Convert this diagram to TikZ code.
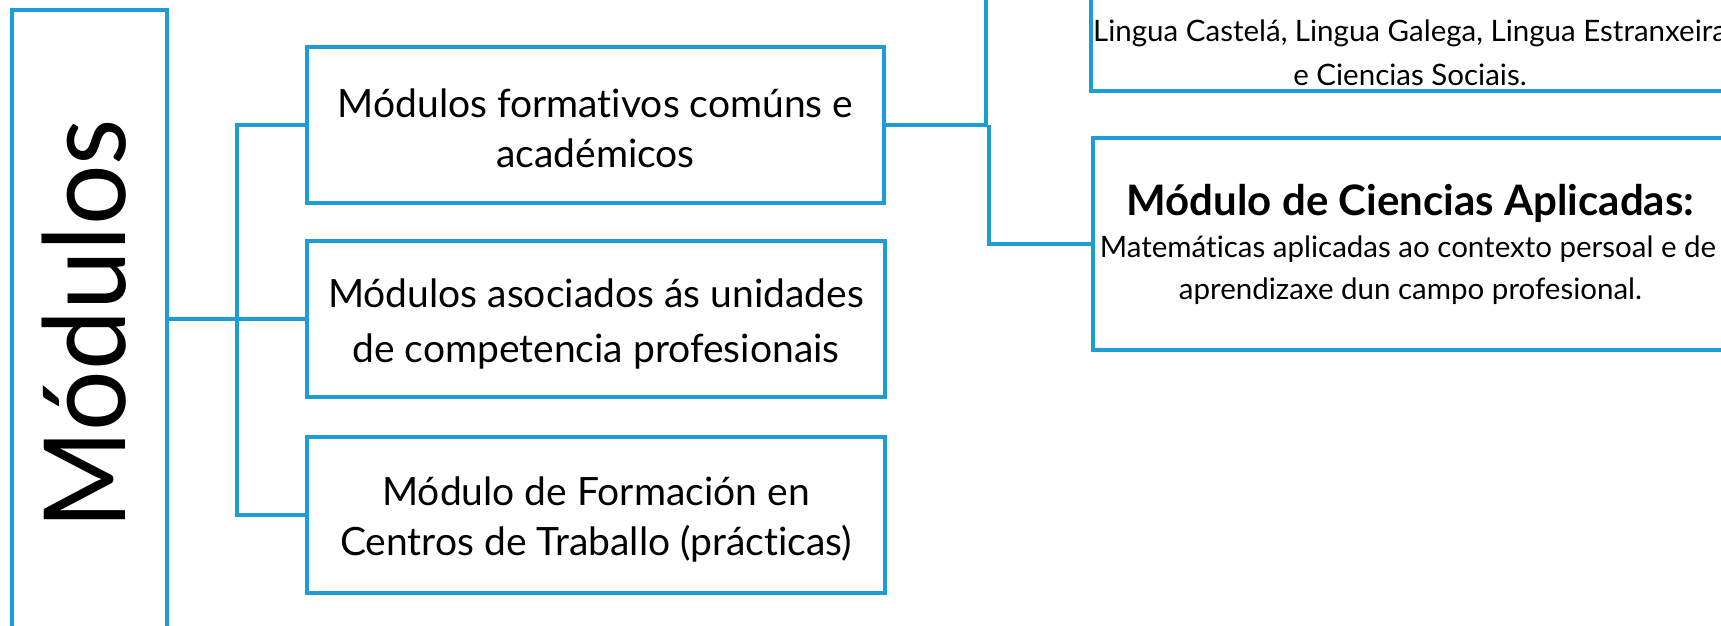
\documentclass[tikz,border=0pt]{standalone}
\usepackage{fontspec}
\setmainfont{Lato}[Ligatures=NoCommon]
\definecolor{lineblue}{RGB}{28,157,212}
\begin{document}
\begin{tikzpicture}[x=1pt,y=-1pt,
  box/.style={draw=lineblue,line width=3.5pt,rectangle,inner sep=0pt},
  link/.style={draw=lineblue,line width=3.5pt},
  main/.style={inner sep=0pt,text=black,align=center,font=\fontsize{39}{50}\selectfont},
  detail/.style={font=\fontsize{29.5}{42}\selectfont},
  label/.style={inner sep=0pt,text=black}]
\useasboundingbox (0,0) rectangle (1721,626);
\clip (0,0) rectangle (1721,626);
% left tall box
\node[box,minimum width=155pt,minimum height=690pt] (M) at (89.5,355) {};
\node[label,rotate=90,anchor=base,font=\fontsize{107}{120}\selectfont] (Mt) at (125,324) {\scalebox{1}[1.06]{Módulos}};
% middle boxes
\node[box,minimum width=577pt,minimum height=156pt] (B1) at (595.5,125) {};
\node[main] (B1t) at ([yshift=-3pt]B1.center) {Módulos formativos comúns e\\académicos};
\node[box,minimum width=578pt,minimum height=156pt] (B2) at (596,319) {};
\node[main] (B2t) at ([yshift=-5pt]B2.center) {Módulos asociados ás unidades\\[5pt]de competencia profesionais};
\node[box,minimum width=578pt,minimum height=156pt] (B3) at (596,515) {};
\node[main] (B3t) at ([yshift=-4pt]B3.center) {Módulo de Formación en\\Centros de Traballo (prácticas)};
% right boxes
\node[box,minimum width=638pt,minimum height=212pt] (B4) at (1410,-15) {};
\node[label,detail,anchor=base] (B4a) at (1410,42) {Lingua Castelá, Lingua Galega, Lingua Estranxeira};
\node[label,detail,anchor=base] (B4b) at (1410,85) {e Ciencias Sociais.};
\node[box,minimum width=636pt,minimum height=212pt] (B5) at (1411,244) {};
\node[label,anchor=base,font=\fontsize{42}{42}\selectfont\bfseries] (B5a) at (1410.5,215) {Módulo de Ciencias Aplicadas:};
\node[label,detail,anchor=base] (B5b) at (1408,257) {Matemáticas aplicadas ao contexto persoal e de};
\node[label,detail,anchor=base] (B5c) at (1410.5,299) {aprendizaxe dun campo profesional.};
% connectors
\coordinate (tx) at (237,0);
\coordinate (rx) at (986,0);
\coordinate (ry) at (989,0);
\draw[link] (M.east |- B2.west) -- (B2.west);
\draw[link] (B1.west) -- (B1.west -| tx) -- (B3.west -| tx) -- (B3.west);
\draw[link] (B1.east) -- (B1.east -| rx) |- (B4.west);
\draw[link] (B1.east -| ry) |- (B5.west);
\end{tikzpicture}
\end{document}
